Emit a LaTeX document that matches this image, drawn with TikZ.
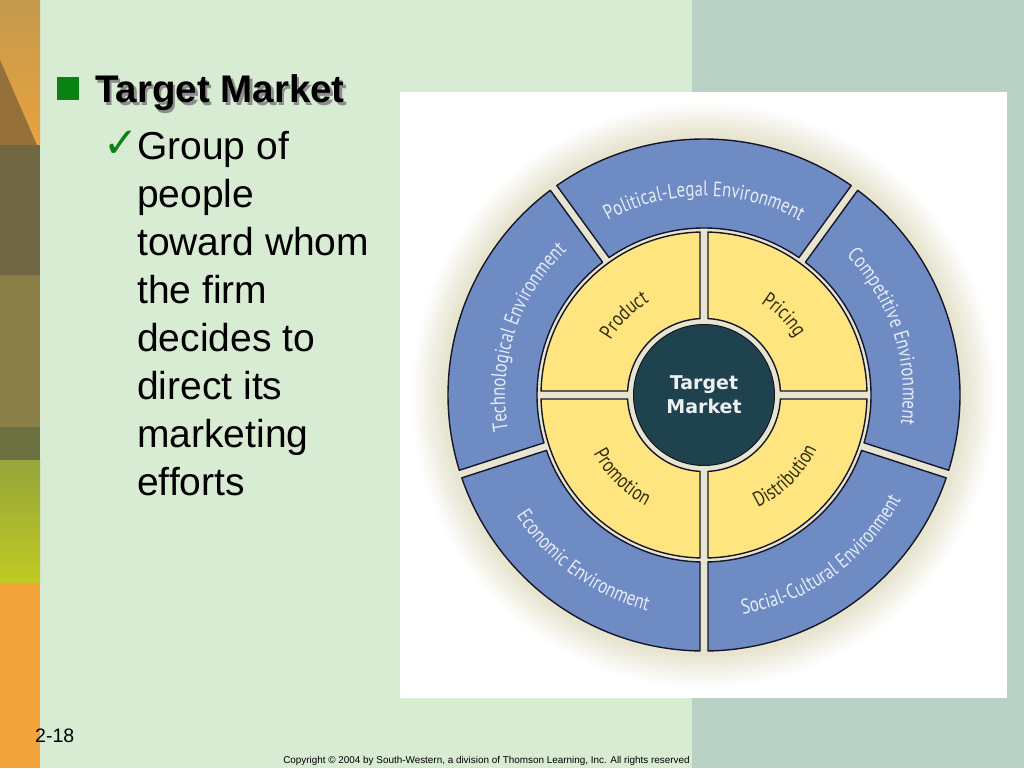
\documentclass[tikz,border=0pt]{standalone}
\usepackage{fontspec}
\setmainfont{Liberation Sans}
\newfontfamily\wheelfont[FakeStretch=0.8]{PT Sans}
\newfontfamily\corefont{DejaVu Sans}
\newfontfamily\tickfont{DejaVu Sans}
\usetikzlibrary{positioning, decorations.text}

\definecolor{slidegreen}{RGB}{216,236,212}
\definecolor{slideteal}{RGB}{186,210,197}
\definecolor{striptan}{RGB}{196,154,76}
\definecolor{stripbrown}{RGB}{150,112,58}
\definecolor{stripdark}{RGB}{112,104,66}
\definecolor{stripolive}{RGB}{138,127,70}
\definecolor{stripmoss}{RGB}{108,112,64}
\definecolor{striplime}{RGB}{150,166,58}
\definecolor{striporange}{RGB}{242,164,59}
\definecolor{bulletgreen}{RGB}{10,130,20}
\definecolor{wheelbeige}{RGB}{231,228,208}
\definecolor{envblue}{RGB}{111,139,196}
\definecolor{mixyellow}{RGB}{254,229,128}
\definecolor{coreteal}{RGB}{30,66,78}
\definecolor{rimline}{RGB}{22,22,40}
\definecolor{envtext}{RGB}{230,236,246}
\definecolor{mixtext}{RGB}{50,45,16}

\newcommand{\envfont}{\wheelfont\fontsize{21}{23}\selectfont}
\newcommand{\mixfont}{\wheelfont\fontsize{21}{23}\selectfont}

% one piece of a ring: start angle, end angle, inner radius, outer radius, style
\newcommand{\ringpiece}[5]{%
  \pgfmathsetmacro{\gapout}{asin(4/#4)}%
  \pgfmathsetmacro{\gapin}{asin(4/#3)}%
  \draw[#5] (#1+\gapout:#4) arc[start angle=#1+\gapout, end angle=#2-\gapout, radius=#4]
    -- (#2-\gapin:#3) arc[start angle=#2-\gapin, end angle=#1+\gapin, radius=#3] -- cycle;}

\begin{document}
\begin{tikzpicture}[x=1pt, y=1pt]
    \tikzstyle{envseg} = [fill=envblue, draw=rimline, line width=1.4pt, line join=round]
    \tikzstyle{mixseg} = [fill=mixyellow, draw=rimline, line width=1.4pt, line join=round]
    \tikzstyle{core} = [circle, fill=coreteal, draw=rimline, line width=1pt, minimum size=141pt, inner sep=0pt, align=center, text=white!92!coreteal, font=\corefont\bfseries\fontsize{19}{24}\selectfont]
    \tikzstyle{envlabel} = [decorate, decoration={text along path, text align=center, text color=envtext}]
    \tikzstyle{mixlabel} = [decorate, decoration={text along path, text align=center, text color=mixtext}]
    \tikzstyle{titletext} = [anchor=base west, inner sep=0pt, font=\fontsize{38.5}{44}\selectfont\bfseries]
    \tikzstyle{bodytext} = [anchor=base west, inner sep=0pt, font=\fontsize{39}{46}\selectfont]

    \useasboundingbox (0,0) rectangle (1024,768);
    % slide background
    \fill[slidegreen] (0,0) rectangle (1024,768);
    \fill[slideteal] (692,0) rectangle (1024,768);
    \shade[top color=striptan, bottom color=striporange!80!striptan] (0,623) rectangle (40,768);
    \fill[stripbrown] (0,708) -- (37,623) -- (0,623) -- cycle;
    \fill[stripdark] (0,493) rectangle (40,623);
    \fill[stripolive] (0,341) rectangle (40,493);
    \fill[stripmoss] (0,307) rectangle (40,341);
    \shade[top color=striplime, bottom color=striplime!60!yellow] (0,185) rectangle (40,307);
    \fill[striporange] (0,0) rectangle (40,185);
    \fill[white] (400,70) rectangle (1007,676);

    % the wheel
    \begin{scope}[shift={(704,373)}]
        \foreach \g [evaluate=\g as \pct using int(6*\g)] in {0,...,16}
            {\fill[wheelbeige!\pct!white] (0,0) circle ({294-2*\g});}
        \fill[wheelbeige] (0,0) circle (261);
        \foreach \a in {-90,-18,54,126,198}
            {\ringpiece{\a}{\a+72}{167}{256}{envseg}}
        \foreach \a in {0,90,180,270}
            {\ringpiece{\a}{\a+90}{76.5}{163}{mixseg}}
        \path[envlabel, decoration={text={|\envfont|Political-Legal Environment}}] (126:199) arc[start angle=126, end angle=54, radius=199];
        \path[envlabel, decoration={text={|\envfont|Technological Environment}}] (198:199) arc[start angle=198, end angle=126, radius=199];
        \path[envlabel, decoration={text={|\envfont|Competitive Environment}}] (54:199) arc[start angle=54, end angle=-18, radius=199];
        \path[envlabel, decoration={text={|\envfont|Economic Environment}}] (198:223) arc[start angle=198, end angle=270, radius=223];
        \path[envlabel, decoration={text={|\envfont|Social-Cultural Environment}}] (270:223) arc[start angle=270, end angle=342, radius=223];
        \path[mixlabel, decoration={text={|\mixfont|Product}}] (180:108) arc[start angle=180, end angle=90, radius=108];
        \path[mixlabel, decoration={text={|\mixfont|Pricing}}] (90:108) arc[start angle=90, end angle=0, radius=108];
        \path[mixlabel, decoration={text={|\mixfont|Promotion}}] (180:125) arc[start angle=180, end angle=270, radius=125];
        \path[mixlabel, decoration={text={|\mixfont|Distribution}}] (270:125) arc[start angle=270, end angle=360, radius=125];
    \end{scope}
    \node[core] (core) at (704,373) {Target\\Market};

    % slide text
    \node[fill=bulletgreen, minimum width=22pt, minimum height=23pt, inner sep=0pt] (bullet) at (68,679.5) {};
    \node[titletext, text=black!45] (titleshadow) at (97.5,662.5) {Target Market};
    \node[titletext] (title) at (95,665) {Target Market};
    \node[anchor=base west, inner sep=0pt, text=bulletgreen, font=\tickfont\fontsize{42}{42}\selectfont] (tick) at (103,610) {✓};
    \foreach \line [count=\k from 0] in {Group of, people, toward whom, the firm, decides to, direct its, marketing, efforts}
        {\node[bodytext] (body\k) at (137,608-48*\k) {\line};}
    \node[anchor=base west, inner sep=0pt, font=\fontsize{19.5}{20}\selectfont] (pagenum) at (35,26) {2-18};
    \node[anchor=base, inner sep=0pt, font=\fontsize{9.9}{11}\selectfont] (copyright) at (486.5,5) {Copyright © 2004 by South-Western, a division of Thomson Learning, Inc. All rights reserved};
\end{tikzpicture}
\end{document}
